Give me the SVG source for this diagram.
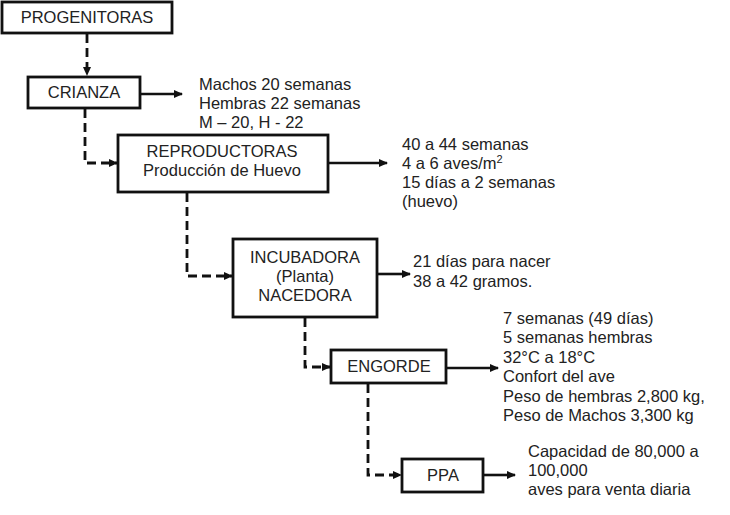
<svg xmlns="http://www.w3.org/2000/svg" width="730" height="515" viewBox="0 0 730 515">
<defs>
<marker id="ah" markerWidth="9" markerHeight="9" refX="8" refY="4.5" orient="auto" markerUnits="userSpaceOnUse">
<path d="M0,0.5 L9,4.5 L0,8.5 Z" fill="#111"/>
</marker>
</defs>
<style>
.box{fill:#fff;stroke:#111;stroke-width:2.8}
.t{font-family:"Liberation Sans",Arial,sans-serif;font-size:16.5px;fill:#222}
.c{text-anchor:middle}
.solid{fill:none;stroke:#111;stroke-width:2.6;marker-end:url(#ah)}
.dash{fill:none;stroke:#111;stroke-width:2.8;stroke-dasharray:9 5;marker-end:url(#ah)}
</style>
<rect width="730" height="515" fill="#fff"/>
<g id="connectors">
<path class="dash" d="M87,34 V75"/>
<path class="dash" d="M85,109 V163 H117"/>
<path class="dash" d="M187,193 V276 H232"/>
<path class="dash" d="M305,318 V367 H330"/>
<path class="dash" d="M368,384 V475 H401"/>
<path class="solid" d="M141,94 H182"/>
<path class="solid" d="M329,163 H387"/>
<path class="solid" d="M378,274 H410"/>
<path class="solid" d="M447,368 H498"/>
<path class="solid" d="M484,475 H515"/>
</g>
<g id="progenitoras">
<rect class="box" x="2" y="2" width="170" height="31"/>
<text class="t c" x="87" y="23">PROGENITORAS</text>
</g>
<g id="crianza">
<rect class="box" x="28" y="77" width="112" height="31"/>
<text class="t c" x="84" y="98">CRIANZA</text>
</g>
<g id="crianza-info">
<text class="t" x="199" y="90">Machos 20 semanas</text>
<text class="t" x="199" y="109">Hembras 22 semanas</text>
<text class="t" x="199" y="128">M – 20, H - 22</text>
</g>
<g id="reproductoras">
<rect class="box" x="118" y="135" width="210" height="57"/>
<text class="t c" x="222" y="157">REPRODUCTORAS</text>
<text class="t c" x="222" y="176">Producción de Huevo</text>
</g>
<g id="reproductoras-info">
<text class="t" x="402" y="150">40 a 44 semanas</text>
<text class="t" x="402" y="169">4 a 6 aves/m<tspan font-size="11" dy="-6">2</tspan></text>
<text class="t" x="402" y="188">15 días a 2 semanas</text>
<text class="t" x="402" y="207">(huevo)</text>
</g>
<g id="incubadora">
<rect class="box" x="233" y="239" width="144" height="78"/>
<text class="t c" x="305" y="263">INCUBADORA</text>
<text class="t c" x="305" y="282">(Planta)</text>
<text class="t c" x="305" y="301">NACEDORA</text>
</g>
<g id="incubadora-info">
<text class="t" x="413" y="267">21 días para nacer</text>
<text class="t" x="413" y="287">38 a 42 gramos.</text>
</g>
<g id="engorde">
<rect class="box" x="331" y="350" width="115" height="33"/>
<text class="t c" x="389" y="372">ENGORDE</text>
</g>
<g id="engorde-info">
<text class="t" x="503" y="324">7 semanas (49 días)</text>
<text class="t" x="503" y="343">5 semanas hembras</text>
<text class="t" x="503" y="363">32°C a 18°C</text>
<text class="t" x="503" y="382">Confort del ave</text>
<text class="t" x="503" y="402">Peso de hembras 2,800 kg,</text>
<text class="t" x="503" y="421">Peso de Machos 3,300 kg</text>
</g>
<g id="ppa">
<rect class="box" x="402" y="459" width="81" height="33"/>
<text class="t c" x="443" y="481">PPA</text>
</g>
<g id="ppa-info">
<text class="t" x="528" y="457">Capacidad de 80,000 a</text>
<text class="t" x="528" y="476">100,000</text>
<text class="t" x="528" y="495">aves para venta diaria</text>
</g>
</svg>
